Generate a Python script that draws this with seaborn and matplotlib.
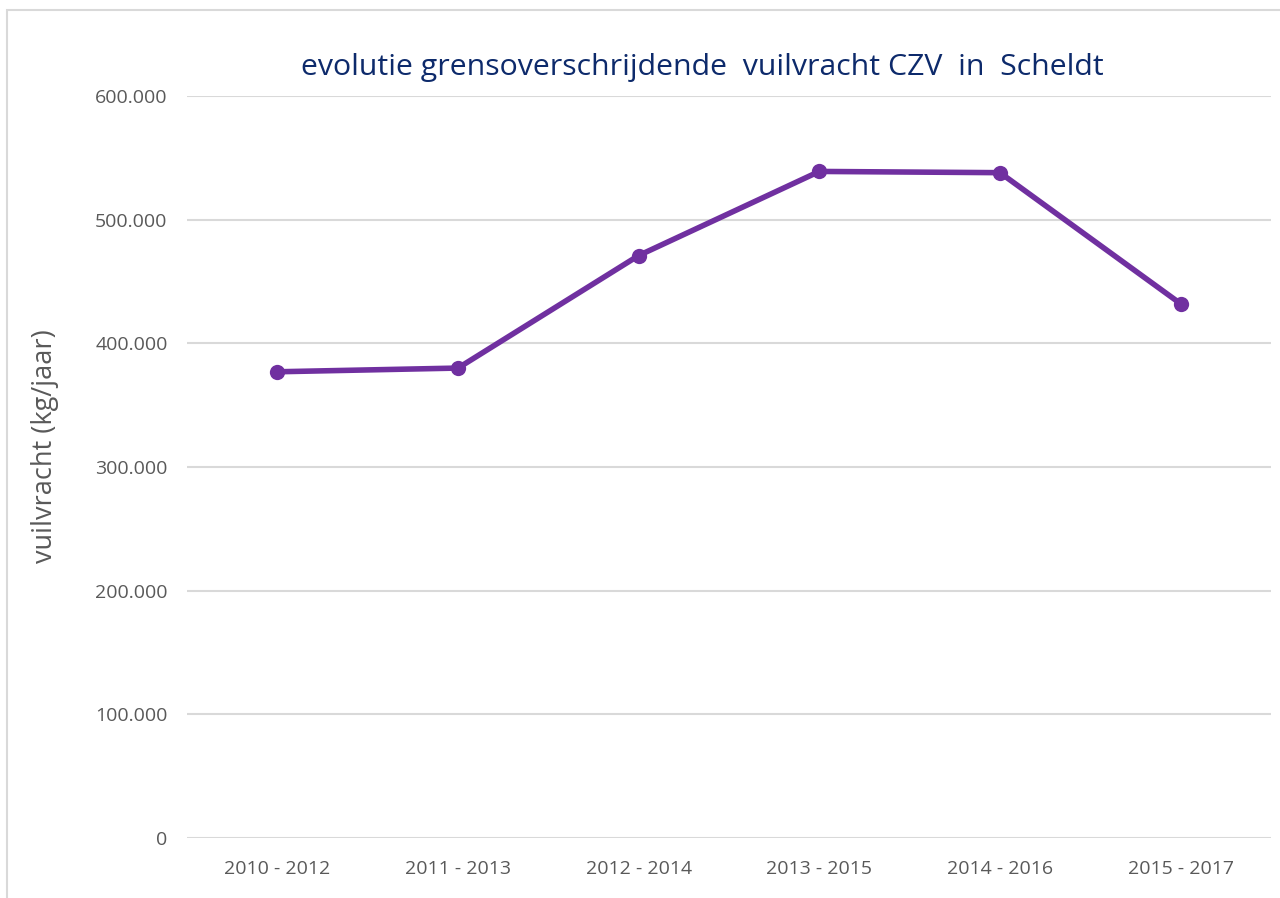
import matplotlib
matplotlib.use("Agg")
import matplotlib.pyplot as plt
import seaborn as sns
import pandas as pd
from matplotlib.ticker import FuncFormatter, FixedLocator
from matplotlib.patches import Rectangle

periods = ["2010 - 2012", "2011 - 2013", "2012 - 2014", "2013 - 2015", "2014 - 2016", "2015 - 2017"]
vuilvracht = [377000, 380000, 471000, 539000, 538000, 432000]
y_ticks = [0, 100000, 200000, 300000, 400000, 500000, 600000]

df = pd.DataFrame({"periode": periods, "vuilvracht": vuilvracht})
df["pos"] = range(len(periods))

sns.set_theme(style="white")
plt.rcParams["font.family"] = ["Open Sans", "DejaVu Sans"]

fig = plt.figure(figsize=(12.8, 8.98), dpi=100)
ax = fig.add_axes([187/1280, 1-838/898, (1271-187)/1280, (838-96)/898])

for y in y_ticks:
    ax.axhline(y, color="#D9D9D9", lw=1.5, zorder=0)

sns.lineplot(data=df, x="pos", y="vuilvracht", ax=ax, color="#7030A0", lw=4,
             marker="o", markersize=11, markeredgewidth=0, zorder=3)

ax.set_xlim(-0.5, len(periods) - 0.5)
ax.set_ylim(0, 600000)
ax.xaxis.set_major_locator(FixedLocator(range(len(periods))))
ax.set_xticklabels(periods)
ax.yaxis.set_major_locator(FixedLocator(y_ticks))
ax.yaxis.set_major_formatter(FuncFormatter(lambda v, p: f"{int(v):,}".replace(",", ".")))
ax.tick_params(axis="both", length=0, colors="#595959", labelsize=14)
ax.tick_params(axis="x", pad=16)
ax.tick_params(axis="y", pad=14)
for s in ax.spines.values():
    s.set_visible(False)
ax.set_xlabel("")
ax.set_ylabel("")

fig.text(45/1280, 1-446/898, "vuilvracht (kg/jaar)", rotation=90, ha="center", va="center",
         color="#595959", fontsize=19.5)
fig.text(702/1280, 1-67/898, "evolutie grensoverschrijdende  vuilvracht CZV  in  Scheldt",
         ha="center", va="center", color="#0D2A6B", fontsize=21.8)

fig.patches.append(Rectangle((7/1280, -0.1), 1.2, 1-10/898 + 0.1, transform=fig.transFigure,
                             fill=False, edgecolor="#D9D9D9", lw=1.5))

fig.savefig("out.png", dpi=100)
